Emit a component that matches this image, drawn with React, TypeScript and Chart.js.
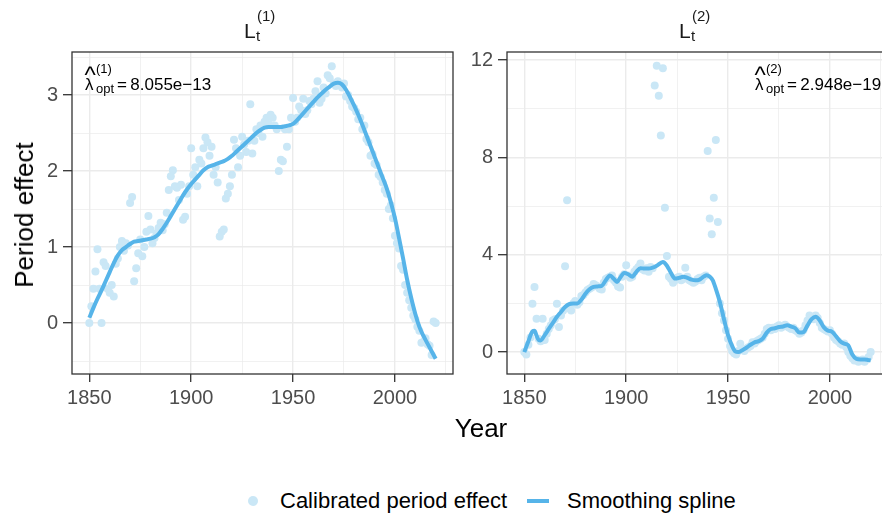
import React, { useEffect, useRef } from 'react';
import { Chart, registerables } from 'chart.js';

Chart.register(...registerables);

// ---------- data ----------
const START_YEAR = 1850;

// Calibrated period effect, panel L_t^(1), one value per year 1850..2020
const points1 = [
  0.00, 0.22, 0.45, 0.68, 0.97, 0.45, 0.00, 0.80, 0.75, 0.45,
  0.40, 0.50, 0.35, 0.78, 0.85, 1.00, 1.08, 0.95, 1.05, 1.02,
  1.58, 1.66, 0.55, 0.72, 0.92, 1.10, 0.88, 1.00, 1.20, 1.41,
  1.23, 1.05, 1.12, 1.18, 1.25, 1.32, 1.22, 1.30, 1.45, 1.75,
  1.93, 2.01, 1.80, 1.78, 1.62, 1.82, 1.36, 1.40, 1.70, 1.80,
  2.30, 1.95, 2.05, 1.80, 2.15, 2.10, 2.30, 2.44, 2.38, 2.20,
  2.32, 1.95, 2.05, 1.85, 1.14, 1.20, 1.23, 1.64, 1.70, 1.80,
  1.95, 2.41, 2.30, 2.05, 2.20, 2.45, 2.35, 2.25, 2.40, 2.88,
  2.23, 2.40, 2.55, 2.50, 2.60, 2.45, 2.65, 2.70, 2.62, 2.74,
  2.70, 2.60, 2.55, 2.00, 2.15, 2.13, 2.55, 2.32, 2.55, 2.70,
  2.96, 2.65, 2.70, 2.85, 2.80, 2.95, 2.75, 2.80, 2.92, 2.88,
  2.95, 3.05, 3.18, 2.90, 2.95, 3.10, 3.02, 3.26, 3.22, 3.38,
  3.15, 3.12, 3.18, 3.14, 3.10, 3.15, 2.98, 3.00, 2.92, 2.85,
  2.83, 2.78, 2.68, 2.70, 2.55, 2.60, 2.42, 2.38, 2.20, 2.22,
  2.10, 2.08, 1.95, 1.92, 1.85, 1.75, 1.70, 1.50, 1.55, 1.38,
  1.15, 1.05, 0.98, 0.75, 0.70, 0.50, 0.40, 0.30, 0.20, 0.10,
  0.05, -0.05, -0.10, -0.26, -0.25, -0.20, -0.28, -0.30, -0.42, 0.02,
  0.00,
];

// Calibrated period effect, panel L_t^(2), one value per year 1850..2020
const points2 = [
  0.00, -0.10, 0.30, 0.60, 1.99, 2.67, 1.37, 0.55, 0.45, 1.37,
  0.50, 0.75, 0.95, 1.10, 1.30, 1.35, 1.99, 1.03, 1.50, 1.70,
  3.53, 6.24, 1.80, 1.71, 2.00, 2.10, 1.95, 2.05, 2.30, 2.35,
  2.45, 2.55, 2.60, 2.65, 2.80, 2.75, 2.70, 2.60, 2.57, 2.85,
  3.00, 3.05, 3.10, 3.15, 2.95, 2.85, 2.70, 2.65, 3.10, 3.20,
  3.57, 3.15, 3.05, 3.10, 3.30, 3.40, 3.50, 3.64, 3.40, 3.35,
  3.45, 3.30, 3.50, 3.45, 10.95, 11.76, 10.53, 8.90, 11.66, 5.93,
  3.95, 3.10, 3.00, 2.85, 2.95, 3.05, 3.10, 2.95, 3.00, 3.47,
  3.10, 2.95, 2.90, 2.85, 2.90, 3.00, 3.05, 2.95, 3.10, 3.15,
  8.26, 5.49, 4.84, 6.34, 8.71, 5.35, 2.00, 1.60, 1.30, 0.90,
  0.55, 0.25, 0.05, -0.05, -0.10, 0.05, 0.34, 0.10, 0.05, 0.15,
  0.20, 0.25, 0.40, 0.35, 0.45, 0.50, 0.55, 0.60, 0.75, 0.95,
  1.00, 0.90, 1.00, 0.95, 1.05, 1.10, 1.00, 1.05, 1.12, 1.05,
  1.00, 0.95, 1.00, 0.90, 0.85, 0.75, 0.80, 0.90, 1.10, 1.30,
  1.50, 1.45, 1.35, 1.50, 1.40, 1.20, 1.00, 0.95, 0.90, 0.85,
  0.90, 0.75, 0.60, 0.50, 0.45, 0.35, 0.30, 0.35, 0.20, 0.00,
  -0.15, -0.25, -0.35, -0.30, -0.40, -0.35, -0.30, -0.40, -0.30, -0.20,
  0.00,
];

// Smoothing spline, panel 1
const splineYears1 = [
  1850, 1852, 1854, 1856, 1858, 1860, 1862, 1864, 1866, 1868,
  1870, 1872, 1874, 1876, 1878, 1880, 1882, 1884, 1886, 1888,
  1890, 1892, 1894, 1896, 1898, 1900, 1902, 1904, 1906, 1908,
  1910, 1912, 1914, 1916, 1918, 1920, 1922, 1924, 1926, 1928,
  1930, 1932, 1934, 1936, 1938, 1940, 1942, 1944, 1946, 1948,
  1950, 1952, 1954, 1956, 1958, 1960, 1962, 1964, 1966, 1968,
  1970, 1972, 1974, 1976, 1978, 1980, 1982, 1984, 1986, 1988,
  1990, 1992, 1994, 1996, 1998, 2000, 2002, 2004, 2006, 2008,
  2010, 2012, 2014, 2016, 2018, 2020,
];
const splineVals1 = [
  0.07, 0.20, 0.32, 0.43, 0.55, 0.67, 0.79, 0.89, 0.96, 1.00,
  1.04, 1.07, 1.08, 1.09, 1.10, 1.11, 1.13, 1.17, 1.24, 1.32,
  1.41, 1.50, 1.59, 1.68, 1.76, 1.83, 1.89, 1.95, 2.01, 2.05,
  2.07, 2.09, 2.11, 2.13, 2.16, 2.20, 2.25, 2.30, 2.35, 2.40,
  2.45, 2.50, 2.54, 2.57, 2.58, 2.58, 2.58, 2.58, 2.59, 2.60,
  2.62, 2.67, 2.73, 2.79, 2.85, 2.91, 2.97, 3.02, 3.07, 3.11,
  3.15, 3.16, 3.14, 3.07, 2.97, 2.86, 2.74, 2.61, 2.47, 2.33,
  2.19, 2.05, 1.91, 1.77, 1.59, 1.38, 1.12, 0.85, 0.57, 0.33,
  0.12, -0.05, -0.17, -0.27, -0.37, -0.47,
];

// Smoothing spline, panel 2
const splineYears2 = [
  1850, 1852, 1854, 1855, 1856, 1857, 1858, 1860, 1862, 1864,
  1866, 1868, 1870, 1872, 1874, 1876, 1878, 1880, 1882, 1884,
  1886, 1888, 1890, 1892, 1894, 1895.5, 1897, 1899, 1901, 1903,
  1905, 1907, 1909, 1911, 1913, 1915, 1918, 1920, 1922, 1924,
  1926, 1928, 1930, 1932, 1934, 1936, 1938, 1939.5, 1941, 1942.5,
  1944, 1946, 1948, 1950, 1952, 1953.5, 1955, 1957, 1959, 1961,
  1963, 1965, 1967, 1969, 1971, 1973, 1975, 1977, 1979, 1981,
  1983, 1985, 1987, 1989, 1991, 1993, 1995, 1997, 1999, 2001,
  2003, 2005, 2007, 2009, 2011, 2013, 2015, 2017, 2019, 2020,
];
const splineVals2 = [
  0.00, 0.45, 0.85, 0.88, 0.68, 0.50, 0.48, 0.70, 0.95, 1.20,
  1.45, 1.65, 1.85, 1.97, 2.00, 2.00, 2.15, 2.40, 2.58, 2.68,
  2.70, 2.72, 2.95, 3.15, 3.00, 2.88, 3.05, 3.25, 3.20, 3.10,
  3.30, 3.45, 3.43, 3.43, 3.47, 3.55, 3.70, 3.55, 3.25, 3.02,
  3.05, 3.10, 3.05, 2.98, 2.95, 2.98, 3.10, 3.16, 3.10, 2.95,
  2.60, 2.05, 1.35, 0.70, 0.25, 0.03, 0.00, 0.08, 0.18, 0.30,
  0.40, 0.45, 0.55, 0.80, 0.95, 0.98, 1.03, 1.05, 1.10, 1.05,
  0.98, 0.80, 0.82, 1.10, 1.35, 1.45, 1.30, 1.02, 0.88, 0.84,
  0.65, 0.45, 0.35, 0.28, -0.10, -0.28, -0.30, -0.30, -0.33, -0.34,
];

const xGridTicks = [1850, 1875, 1900, 1925, 1950, 1975, 2000, 2025];
const xLabelTicks = [1850, 1900, 1950, 2000];
const yGridTicks1 = [-0.5, 0, 0.5, 1, 1.5, 2, 2.5, 3, 3.5];
const yLabelTicks1 = [0, 1, 2, 3];
const yGridTicks2 = [0, 2, 4, 6, 8, 10, 12];
const yLabelTicks2 = [0, 4, 8, 12];

// ---------- style ----------
const POINT_COLOR = 'rgb(202,231,246)';
const LINE_COLOR = '#56B4E9';
const GRID_COLOR = '#EBEBEB';
const AXIS_COLOR = '#333333';
const TICK_TEXT = '#4D4D4D';
const FONT = '"Liberation Sans", Arial, Helvetica, sans-serif';
const CANVAS_H = 420;

Chart.defaults.font.family = FONT;

const panelBorder = {
  id: 'panelBorder',
  afterDraw(chart: any) {
    const { ctx, chartArea: a } = chart;
    ctx.save();
    ctx.strokeStyle = AXIS_COLOR;
    ctx.lineWidth = 1.3;
    ctx.strokeRect(a.left, a.top, a.right - a.left, a.bottom - a.top);
    ctx.restore();
  },
};

type PanelProps = {
  left: number;
  width: number;
  yAxisWidth: number;
  padRight: number;
  points: number[];
  sYears: number[];
  sVals: number[];
  yMin: number;
  yMax: number;
  yGrid: number[];
  yLabels: number[];
};

function Panel(p: PanelProps) {
  const ref = useRef<HTMLCanvasElement>(null);
  useEffect(() => {
    const chart = new Chart(ref.current as HTMLCanvasElement, {
      type: 'scatter',
      data: {
        datasets: [
          {
            label: 'Smoothing spline',
            data: p.sYears.map((x, i) => ({ x, y: p.sVals[i] })),
            showLine: true,
            borderColor: LINE_COLOR,
            backgroundColor: LINE_COLOR,
            borderWidth: 4,
            pointRadius: 0,
            cubicInterpolationMode: 'monotone',
            fill: false,
            order: 0,
          } as any,
          {
            label: 'Calibrated period effect',
            data: p.points.map((y, i) => ({ x: START_YEAR + i, y })),
            backgroundColor: POINT_COLOR,
            borderWidth: 0,
            pointRadius: 4,
            order: 1,
          },
        ],
      },
      options: {
        animation: false,
        responsive: false,
        devicePixelRatio: 1,
        events: [],
        layout: { padding: { left: 0, top: 52, right: p.padRight, bottom: 6 } },
        plugins: { legend: { display: false }, tooltip: { enabled: false } },
        scales: {
          x: {
            type: 'linear',
            min: 1841.5,
            max: 2028.5,
            afterBuildTicks: (s: any) => {
              s.ticks = xGridTicks.map((v) => ({ value: v }));
            },
            afterFit: (s: any) => {
              s.height = 40;
            },
            ticks: {
              autoSkip: false,
              maxRotation: 0,
              padding: 4,
              color: TICK_TEXT,
              font: { size: 20 },
              callback: (v: any) => (xLabelTicks.includes(Number(v)) ? String(v) : ''),
            },
            grid: {
              color: GRID_COLOR,
              lineWidth: (c: any) => (c.tick && xLabelTicks.includes(c.tick.value) ? 1.4 : 0.7),
              tickLength: 8,
              tickWidth: 1.3,
              tickColor: (c: any) =>
                c.tick && xLabelTicks.includes(c.tick.value) ? AXIS_COLOR : 'rgba(0,0,0,0)',
            },
            border: { display: false },
          },
          y: {
            type: 'linear',
            min: p.yMin,
            max: p.yMax,
            afterBuildTicks: (s: any) => {
              s.ticks = p.yGrid.map((v) => ({ value: v }));
            },
            afterFit: (s: any) => {
              s.width = p.yAxisWidth;
            },
            ticks: {
              autoSkip: false,
              padding: 5,
              color: TICK_TEXT,
              font: { size: 20 },
              callback: (v: any) => (p.yLabels.includes(Number(v)) ? String(v) : ''),
            },
            grid: {
              color: GRID_COLOR,
              lineWidth: (c: any) => (c.tick && p.yLabels.includes(c.tick.value) ? 1.4 : 0.7),
              tickLength: 9,
              tickWidth: 1.3,
              tickColor: (c: any) =>
                c.tick && p.yLabels.includes(c.tick.value) ? AXIS_COLOR : 'rgba(0,0,0,0)',
            },
            border: { display: false },
          },
        },
      },
      plugins: [panelBorder],
    });
    return () => chart.destroy();
  }, []);
  return (
    <canvas
      ref={ref}
      width={p.width}
      height={CANVAS_H}
      style={{ position: 'absolute', left: p.left, top: 0, width: p.width, height: CANVAS_H, display: 'block' }}
    />
  );
}

const abs = (left: number, top: number, size: number, extra: any = {}) => ({
  position: 'absolute' as const,
  left,
  top,
  fontSize: size,
  lineHeight: 1,
  whiteSpace: 'nowrap' as const,
  ...extra,
});

function FacetTitle({ x, n }: { x: number; n: number }) {
  return (
    <>
      <div style={abs(x, 20, 21, { color: '#1A1A1A' })}>L</div>
      <div style={abs(x + 12, 28, 15, { color: '#1A1A1A' })}>t</div>
      <div style={abs(x + 13, 7.5, 15, { color: '#1A1A1A' })}>({n})</div>
    </>
  );
}

function LambdaLabel({ x, n, value }: { x: number; n: number; value: string }) {
  return (
    <>
      <div style={abs(x - 0.5, 62.7, 24)}>^</div>
      <div style={abs(x, 75.6, 17)}>λ</div>
      <div style={abs(x + 11, 62, 13)}>({n})</div>
      <div style={abs(x + 11, 82, 13)}>opt</div>
      <div style={abs(x + 32, 75.6, 17)}>{'=\u2009' + value}</div>
    </>
  );
}

export default function App() {
  return (
    <div
      style={{
        position: 'absolute',
        left: 0,
        top: 0,
        width: 882,
        height: 517,
        overflow: 'hidden',
        background: '#ffffff',
        fontFamily: FONT,
        color: '#000',
      }}
    >
      <Panel
        left={0}
        width={470}
        yAxisWidth={72}
        padRight={17}
        points={points1}
        sYears={splineYears1}
        sVals={splineVals1}
        yMin={-0.67}
        yMax={3.566}
        yGrid={yGridTicks1}
        yLabels={yLabelTicks1}
      />
      <Panel
        left={440}
        width={460}
        yAxisWidth={67}
        padRight={12}
        points={points2}
        sYears={splineYears2}
        sVals={splineVals2}
        yMin={-0.9}
        yMax={12.33}
        yGrid={yGridTicks2}
        yLabels={yLabelTicks2}
      />

      <FacetTitle x={244} n={1} />
      <FacetTitle x={679} n={2} />

      <LambdaLabel x={85} n={1} value="8.055e−13" />
      <LambdaLabel x={755} n={2} value="2.948e−19" />

      {/* axis titles */}
      <div
        style={{
          position: 'absolute',
          left: 24,
          top: 215,
          fontSize: 26,
          lineHeight: 1,
          whiteSpace: 'nowrap',
          transform: 'translate(-50%, -50%) rotate(-90deg)',
        }}
      >
        Period effect
      </div>
      <div
        style={{
          position: 'absolute',
          left: 481,
          top: 428,
          fontSize: 26,
          lineHeight: 1,
          whiteSpace: 'nowrap',
          transform: 'translate(-50%, -50%)',
        }}
      >
        Year
      </div>

      {/* legend */}
      <div
        style={{
          position: 'absolute',
          left: 247.5,
          top: 496,
          width: 10,
          height: 10,
          borderRadius: '50%',
          background: POINT_COLOR,
        }}
      />
      <div style={abs(280, 490, 22)}>Calibrated period effect</div>
      <div style={{ position: 'absolute', left: 527, top: 499, width: 22, height: 4, background: LINE_COLOR }} />
      <div style={abs(567, 490, 22)}>Smoothing spline</div>
    </div>
  );
}
